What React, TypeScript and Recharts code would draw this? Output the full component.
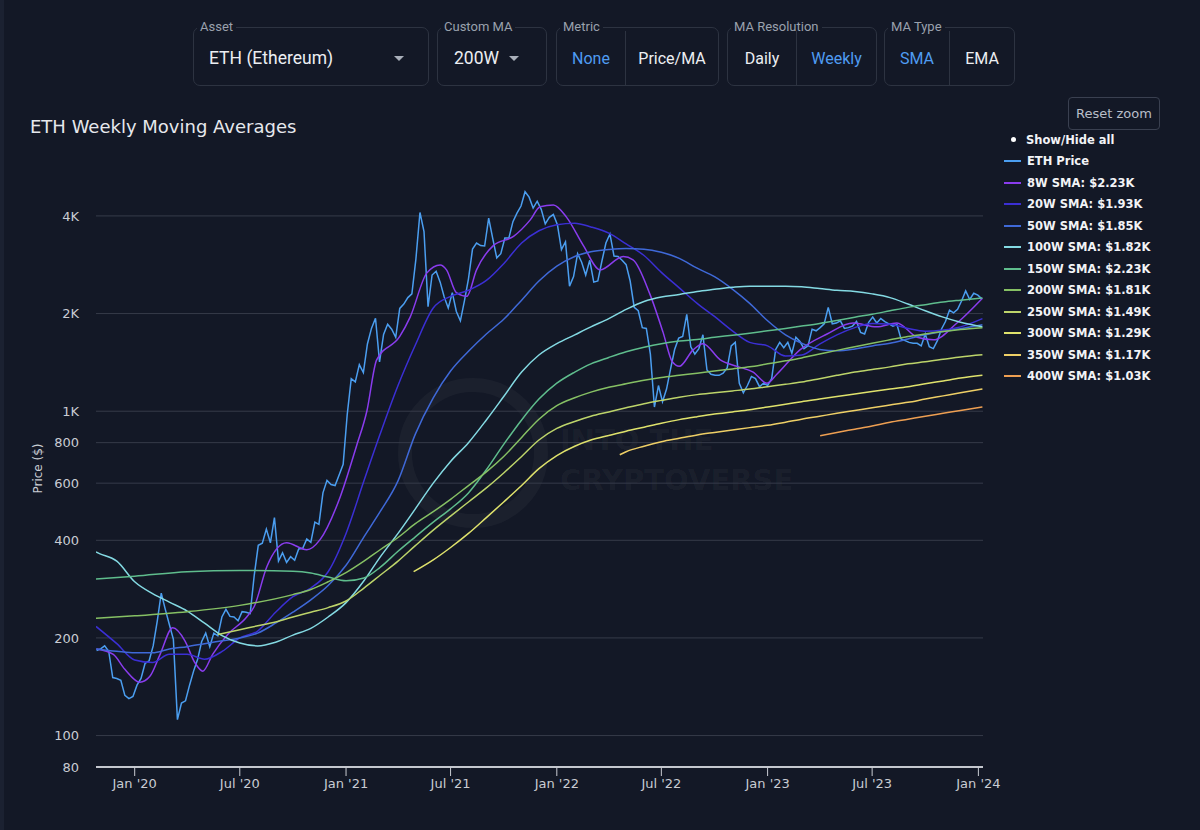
import React from 'react';
import { LineChart, Line, XAxis, YAxis, ReferenceLine, Label } from 'recharts';

const DAY = 86400000;
const ts = (d: string) => Date.parse(d + 'T00:00:00Z');

// ETH weekly closes, one value per week starting 2019-10-27
const priceStart = '2019-10-27';
const ethPrice = [
  183, 185, 189, 182, 151, 150, 148, 133, 130, 132,
  143, 150, 167, 170, 189, 225, 275, 245, 220, 198, 112, 126, 128, 143, 158, 172, 195, 207, 188, 207, 203, 232,
  245, 233, 232, 226, 241, 240, 238, 312, 386, 392, 433, 393, 470, 345, 366, 342, 356, 347, 376, 378, 404, 394,
  455, 448, 560, 612, 594, 590, 636, 686,
  975, 1260, 1232, 1392, 1315, 1612, 1800, 1935, 1420, 1725, 1855, 1790, 1690, 2075, 2140, 2240, 2300, 2950, 4100, 3580,
  2100, 2630, 2700, 2500, 2250, 2080, 2320, 2030, 1900, 2190, 2560, 3160, 3300, 3240, 3230, 3940, 3410, 2970, 3060, 3420,
  3420, 3840, 4080, 4290, 4750, 4570, 4230, 4440, 4190, 3780, 3960, 4040,
  3760, 3150, 3330, 2430, 2600, 3060, 2880, 2630, 2920, 2500, 2520, 2900, 3300, 3520, 3010, 3000, 2920, 2830, 2520, 2090,
  2040, 1810, 1800, 1500, 1030, 1200, 1070, 1170, 1350, 1550, 1680, 1700, 1990, 1580, 1500, 1560, 1720, 1340, 1300, 1290,
  1290, 1310, 1360, 1590, 1630, 1220, 1140, 1200, 1280, 1260, 1190, 1220,
  1200, 1260, 1550, 1630, 1570, 1630, 1510, 1690, 1640, 1560, 1590, 1790, 1770, 1810, 1860, 2090, 1860, 1870, 1900, 1800,
  1810, 1830, 1890, 1750, 1730, 1880, 1950, 1870, 1930, 1890, 1860, 1830, 1850, 1670, 1650, 1630, 1620, 1620, 1590, 1730,
  1580, 1560, 1650, 1790, 1890, 2050, 2010, 2060, 2190, 2350, 2210, 2310, 2280,
  2220,
];

const sma8: [string, number][] = [
  ['2019-10-27', 185], ['2019-11-25', 178], ['2019-12-15', 160], ['2020-01-10', 146], ['2020-01-27', 152],
  ['2020-02-14', 178], ['2020-03-07', 215], ['2020-03-28', 196], ['2020-04-14', 168], ['2020-04-28', 158],
  ['2020-05-15', 178], ['2020-06-10', 205], ['2020-07-13', 232], ['2020-07-26', 250], ['2020-08-17', 332],
  ['2020-09-20', 393], ['2020-10-25', 374], ['2020-11-17', 402], ['2020-12-22', 545], ['2021-01-19', 780],
  ['2021-02-06', 1000], ['2021-02-23', 1440], ['2021-04-04', 1700], ['2021-04-22', 1950], ['2021-05-21', 2670],
  ['2021-06-13', 2825], ['2021-06-24', 2727], ['2021-07-11', 2320], ['2021-07-29', 2260], ['2021-08-15', 2727],
  ['2021-09-13', 3240], ['2021-10-18', 3460], ['2021-11-16', 3890], ['2021-12-03', 4270], ['2021-12-26', 4325],
  ['2022-01-18', 3960], ['2022-02-16', 3240], ['2022-03-17', 2727], ['2022-04-26', 3000], ['2022-05-13', 2930],
  ['2022-06-11', 2300], ['2022-07-04', 1750], ['2022-07-20', 1420], ['2022-08-01', 1375], ['2022-08-25', 1546],
  ['2022-09-11', 1615], ['2022-10-11', 1440], ['2022-11-09', 1375], ['2022-12-07', 1320], ['2022-12-31', 1220],
  ['2023-01-17', 1300], ['2023-02-26', 1546], ['2023-04-14', 1730], ['2023-05-29', 1870], ['2023-07-09', 1820],
  ['2023-08-13', 1870], ['2023-09-17', 1690], ['2023-10-15', 1660], ['2023-11-25', 1870], ['2024-01-08', 2230],
];

const sma20: [string, number][] = [
  ['2019-10-26', 217], ['2019-12-01', 192], ['2020-01-01', 171], ['2020-02-01', 168], ['2020-03-01', 178],
  ['2020-04-01', 178], ['2020-05-01', 172], ['2020-06-01', 182], ['2020-07-01', 200], ['2020-08-01', 210],
  ['2020-09-01', 240], ['2020-10-01', 268], ['2020-11-01', 285], ['2020-12-01', 320], ['2021-01-01', 420],
  ['2021-02-01', 610], ['2021-03-01', 850], ['2021-04-01', 1200], ['2021-05-01', 1600], ['2021-06-01', 2080],
  ['2021-07-01', 2260], ['2021-08-01', 2360], ['2021-09-01', 2530], ['2021-10-01', 2850], ['2021-11-01', 3300],
  ['2021-12-01', 3600], ['2022-01-01', 3760], ['2022-02-01', 3800], ['2022-03-01', 3700], ['2022-04-01', 3540],
  ['2022-05-01', 3280], ['2022-06-01', 3020], ['2022-07-01', 2680], ['2022-08-01', 2400], ['2022-09-01', 2150],
  ['2022-10-01', 1960], ['2022-11-01', 1770], ['2022-12-01', 1630], ['2023-01-01', 1590], ['2023-02-01', 1480],
  ['2023-03-01', 1490], ['2023-04-01', 1610], ['2023-05-01', 1720], ['2023-06-01', 1810], ['2023-07-01', 1865],
  ['2023-08-01', 1855], ['2023-09-01', 1800], ['2023-10-01', 1765], ['2023-11-01', 1780], ['2023-12-01', 1820],
  ['2024-01-08', 1930],
];

const sma50: [string, number][] = [
  ['2019-10-26', 185], ['2019-12-01', 182], ['2020-01-01', 180], ['2020-02-01', 180], ['2020-03-01', 185],
  ['2020-04-01', 188], ['2020-05-01', 192], ['2020-06-01', 196], ['2020-07-01', 200], ['2020-08-01', 207],
  ['2020-09-01', 222], ['2020-10-01', 240], ['2020-11-01', 262], ['2020-12-01', 290], ['2021-01-01', 335],
  ['2021-02-01', 410], ['2021-03-01', 490], ['2021-04-01', 610], ['2021-05-01', 850], ['2021-06-01', 1100],
  ['2021-07-01', 1330], ['2021-08-01', 1530], ['2021-09-01', 1730], ['2021-10-01', 1920], ['2021-11-01', 2200],
  ['2021-12-01', 2520], ['2022-01-01', 2800], ['2022-02-01', 3000], ['2022-03-01', 3100], ['2022-04-01', 3150],
  ['2022-05-01', 3175], ['2022-06-01', 3160], ['2022-07-01', 3090], ['2022-08-01', 2960], ['2022-09-01', 2760],
  ['2022-10-01', 2600], ['2022-11-01', 2380], ['2022-12-01', 2150], ['2023-01-01', 1900], ['2023-02-01', 1720],
  ['2023-03-01', 1620], ['2023-04-01', 1550], ['2023-05-01', 1535], ['2023-06-01', 1555], ['2023-07-01', 1590],
  ['2023-08-01', 1620], ['2023-09-01', 1670], ['2023-10-01', 1720], ['2023-11-01', 1760], ['2023-12-01', 1795],
  ['2024-01-08', 1846],
];

const sma100: [string, number][] = [
  ['2019-10-26', 368], ['2019-11-01', 364], ['2019-12-01', 345], ['2020-01-01', 298], ['2020-02-01', 274],
  ['2020-03-01', 258], ['2020-04-01', 242], ['2020-05-01', 222], ['2020-06-01', 203], ['2020-07-01', 193],
  ['2020-08-01', 189], ['2020-09-01', 194], ['2020-10-01', 204], ['2020-11-01', 214], ['2020-12-01', 232],
  ['2021-01-01', 257], ['2021-02-01', 300], ['2021-03-01', 355], ['2021-04-01', 420], ['2021-05-01', 500],
  ['2021-06-01', 600], ['2021-07-01', 700], ['2021-08-01', 800], ['2021-09-01', 940], ['2021-10-01', 1110],
  ['2021-11-01', 1320], ['2021-12-01', 1490], ['2022-01-01', 1615], ['2022-02-01', 1720], ['2022-03-01', 1820],
  ['2022-04-01', 1930], ['2022-05-01', 2060], ['2022-06-01', 2180], ['2022-07-01', 2250], ['2022-08-01', 2290],
  ['2022-09-01', 2340], ['2022-10-01', 2375], ['2022-11-01', 2410], ['2022-12-01', 2430], ['2023-01-01', 2430],
  ['2023-02-01', 2430], ['2023-03-01', 2420], ['2023-04-01', 2390], ['2023-05-01', 2360], ['2023-06-01', 2340],
  ['2023-07-01', 2300], ['2023-08-01', 2240], ['2023-09-01', 2140], ['2023-10-01', 2040], ['2023-11-01', 1950],
  ['2023-12-01', 1880], ['2024-01-08', 1820],
];

const sma150: [string, number][] = [
  ['2019-10-26', 304], ['2020-01-01', 310], ['2020-04-01', 320], ['2020-07-01', 323], ['2020-10-01', 321],
  ['2020-11-01', 317], ['2020-12-01', 308], ['2021-01-01', 300], ['2021-02-01', 306], ['2021-03-01', 330],
  ['2021-04-01', 370], ['2021-05-01', 410], ['2021-06-01', 455], ['2021-07-01', 500], ['2021-08-01', 560],
  ['2021-09-01', 660], ['2021-10-01', 790], ['2021-11-01', 940], ['2021-12-01', 1090], ['2022-01-01', 1220],
  ['2022-02-01', 1320], ['2022-03-01', 1400], ['2022-04-01', 1465], ['2022-05-01', 1525], ['2022-06-01', 1575],
  ['2022-07-01', 1615], ['2022-08-01', 1645], ['2022-09-01', 1665], ['2022-10-01', 1690], ['2022-11-01', 1715],
  ['2022-12-01', 1740], ['2023-01-01', 1770], ['2023-02-01', 1800], ['2023-03-01', 1830], ['2023-04-01', 1865],
  ['2023-05-01', 1905], ['2023-06-01', 1950], ['2023-07-01', 1990], ['2023-08-01', 2040], ['2023-09-01', 2090],
  ['2023-10-01', 2130], ['2023-11-01', 2170], ['2023-12-01', 2200], ['2024-01-08', 2236],
];

const sma200: [string, number][] = [
  ['2019-10-26', 230], ['2020-01-01', 234], ['2020-04-01', 241], ['2020-07-01', 252], ['2020-10-01', 272],
  ['2020-11-01', 282], ['2020-12-01', 298], ['2021-01-01', 318], ['2021-02-01', 345], ['2021-03-01', 374],
  ['2021-04-01', 408], ['2021-05-01', 450], ['2021-06-01', 490], ['2021-07-01', 535], ['2021-08-01', 590],
  ['2021-09-01', 650], ['2021-10-01', 725], ['2021-11-01', 830], ['2021-12-01', 945], ['2022-01-01', 1040],
  ['2022-02-01', 1100], ['2022-03-01', 1145], ['2022-04-01', 1185], ['2022-05-01', 1215], ['2022-06-01', 1245],
  ['2022-07-01', 1270], ['2022-08-01', 1290], ['2022-09-01', 1310], ['2022-10-01', 1330], ['2022-11-01', 1350],
  ['2022-12-01', 1370], ['2023-01-01', 1400], ['2023-02-01', 1430], ['2023-03-01', 1460], ['2023-04-01', 1500],
  ['2023-05-01', 1540], ['2023-06-01', 1580], ['2023-07-01', 1620], ['2023-08-01', 1660], ['2023-09-01', 1700],
  ['2023-10-01', 1730], ['2023-11-01', 1760], ['2023-12-01', 1785], ['2024-01-08', 1810],
];

const sma250: [string, number][] = [
  ['2020-05-24', 205], ['2020-07-01', 212], ['2020-08-01', 218], ['2020-09-01', 224], ['2020-10-01', 232],
  ['2020-11-01', 240], ['2020-12-01', 248], ['2021-01-01', 260], ['2021-02-01', 285], ['2021-03-01', 312],
  ['2021-04-01', 345], ['2021-05-01', 385], ['2021-06-01', 430], ['2021-07-01', 475], ['2021-08-01', 525],
  ['2021-09-01', 580], ['2021-10-01', 645], ['2021-11-01', 725], ['2021-12-01', 815], ['2022-01-01', 885],
  ['2022-02-01', 930], ['2022-03-01', 965], ['2022-04-01', 995], ['2022-05-01', 1025], ['2022-06-01', 1055],
  ['2022-07-01', 1080], ['2022-08-01', 1105], ['2022-09-01', 1125], ['2022-10-01', 1140], ['2022-11-01', 1155],
  ['2022-12-01', 1170], ['2023-01-01', 1190], ['2023-02-01', 1210], ['2023-03-01', 1230], ['2023-04-01', 1260],
  ['2023-05-01', 1290], ['2023-06-01', 1320], ['2023-07-01', 1345], ['2023-08-01', 1370], ['2023-09-01', 1400],
  ['2023-10-01', 1420], ['2023-11-01', 1445], ['2023-12-01', 1470], ['2024-01-08', 1492],
];

const sma300: [string, number][] = [
  ['2021-04-28', 320], ['2021-06-01', 348], ['2021-07-01', 380], ['2021-08-01', 420], ['2021-09-01', 470],
  ['2021-10-01', 525], ['2021-11-01', 590], ['2021-12-01', 665], ['2022-01-01', 730], ['2022-02-01', 780],
  ['2022-03-01', 815], ['2022-04-01', 842], ['2022-05-01', 868], ['2022-06-01', 893], ['2022-07-01', 918],
  ['2022-08-01', 942], ['2022-09-01', 962], ['2022-10-01', 980], ['2022-11-01', 995], ['2022-12-01', 1010],
  ['2023-01-01', 1030], ['2023-02-01', 1050], ['2023-03-01', 1070], ['2023-04-01', 1090], ['2023-05-01', 1110],
  ['2023-06-01', 1130], ['2023-07-01', 1150], ['2023-08-01', 1170], ['2023-09-01', 1190], ['2023-10-01', 1215],
  ['2023-11-01', 1240], ['2023-12-01', 1265], ['2024-01-08', 1290],
];

const sma350: [string, number][] = [
  ['2022-04-20', 734], ['2022-05-01', 750], ['2022-06-01', 780], ['2022-07-01', 805], ['2022-08-01', 825],
  ['2022-09-01', 845], ['2022-10-01', 860], ['2022-11-01', 875], ['2022-12-01', 890], ['2023-01-01', 905],
  ['2023-02-01', 925], ['2023-03-01', 945], ['2023-04-01', 965], ['2023-05-01', 985], ['2023-06-01', 1005],
  ['2023-07-01', 1025], ['2023-08-01', 1045], ['2023-09-01', 1065], ['2023-10-01', 1090], ['2023-11-01', 1115],
  ['2023-12-01', 1140], ['2024-01-08', 1170],
];

const sma400: [string, number][] = [
  ['2023-04-02', 840], ['2023-05-01', 860], ['2023-06-01', 880], ['2023-07-01', 900], ['2023-08-01', 925],
  ['2023-09-01', 945], ['2023-10-01', 965], ['2023-11-01', 985], ['2023-12-01', 1005], ['2024-01-08', 1030],
];

const xTickDates = [
  '2020-01-01', '2020-07-01', '2021-01-01', '2021-07-01', '2022-01-01',
  '2022-07-01', '2023-01-01', '2023-07-01', '2024-01-01',
];
const yTicks = [80, 100, 200, 400, 600, 800, 1000, 2000, 4000];

const priceData = ethPrice.map((v, i) => ({ t: ts(priceStart) + i * 7 * DAY, v }));
const toPoints = (arr: [string, number][]) => arr.map(([d, v]) => ({ t: ts(d), v }));

const series = [
  { name: 'ETH Price', color: '#4b9ef0', data: priceData, curve: 'linear' },
  { name: '8W SMA: $2.23K', color: '#8a3cee', data: toPoints(sma8), curve: 'monotone' },
  { name: '20W SMA: $1.93K', color: '#3b2fd4', data: toPoints(sma20), curve: 'monotone' },
  { name: '50W SMA: $1.85K', color: '#3f69d8', data: toPoints(sma50), curve: 'monotone' },
  { name: '100W SMA: $1.82K', color: '#84dae3', data: toPoints(sma100), curve: 'monotone' },
  { name: '150W SMA: $2.23K', color: '#5fbd8d', data: toPoints(sma150), curve: 'monotone' },
  { name: '200W SMA: $1.81K', color: '#86c064', data: toPoints(sma200), curve: 'monotone' },
  { name: '250W SMA: $1.49K', color: '#bdd46a', data: toPoints(sma250), curve: 'monotone' },
  { name: '300W SMA: $1.29K', color: '#dfe26c', data: toPoints(sma300), curve: 'monotone' },
  { name: '350W SMA: $1.17K', color: '#eecf66', data: toPoints(sma350), curve: 'monotone' },
  { name: '400W SMA: $1.03K', color: '#ee9f52', data: toPoints(sma400), curve: 'monotone' },
];

const BG = '#131826';
const TEXT = '#c9ccd3';
const BLUE = '#4f9cf2';
const BORDER = '#2d3341';

const fmtX = (t: number) => {
  const d = new Date(t);
  return `${d.getUTCMonth() === 0 ? 'Jan' : 'Jul'} '${String(d.getUTCFullYear()).slice(2)}`;
};
const fmtY = (v: number) => (v >= 1000 ? `${v / 1000}K` : `${v}`);

const Arrow = () => (
  <span style={{ width: 0, height: 0, borderLeft: '5px solid transparent', borderRight: '5px solid transparent', borderTop: '5px solid #a9afba' }} />
);

const Control = ({ label, left, width, children }: any) => (
  <fieldset
    style={{
      position: 'absolute', left, top: 19, width, height: 67, margin: 0, padding: 0,
      border: `1px solid ${BORDER}`, borderRadius: 7, boxSizing: 'border-box',
    }}
  >
    <legend style={{ marginLeft: 3, padding: '0 3px', fontSize: 13, color: '#9aa1ad', lineHeight: '16px' }}>{label}</legend>
    <div style={{ display: 'flex', alignItems: 'stretch', height: 54, marginTop: -4 }}>{children}</div>
  </fieldset>
);

const Toggle = ({ items, active, splits }: { items: string[]; active: number; splits: number[] }) => (
  <>
    {items.map((it, i) => (
      <div
        key={it}
        style={{
          width: splits[i], display: 'flex', alignItems: 'center', justifyContent: 'center',
          borderLeft: i > 0 ? `1px solid ${BORDER}` : 'none', color: i === active ? BLUE : '#eceef2', fontSize: 16,
        }}
      >
        {it}
      </div>
    ))}
  </>
);

export default function App() {
  const xDomain = [ts('2019-10-26'), ts('2024-01-09')];
  return (
    <div style={{ position: 'relative', width: 1200, height: 830, background: BG, overflow: 'hidden', fontFamily: 'DejaVu Sans, sans-serif' }}>
      <style>{`body{margin:0;background:${BG}}`}</style>
      <div style={{ position: 'absolute', left: 0, top: 0, width: 4, height: 830, background: '#1b2131' }} />

      <div style={{ fontFamily: 'Roboto, sans-serif' }}>
        <Control label="Asset" left={193} width={236}>
          <div style={{ flex: 1, display: 'flex', alignItems: 'center', justifyContent: 'space-between', padding: '0 24px 0 15px', color: '#eceef2', fontSize: 17.5 }}>
            <span>ETH (Ethereum)</span>
            <Arrow />
          </div>
        </Control>
        <Control label="Custom MA" left={437} width={110}>
          <div style={{ flex: 1, display: 'flex', alignItems: 'center', gap: 10, padding: '0 0 0 16px', color: '#eceef2', fontSize: 17.5 }}>
            <span>200W</span>
            <Arrow />
          </div>
        </Control>
        <Control label="Metric" left={556} width={162}>
          <Toggle items={['None', 'Price/MA']} active={0} splits={[68, 92]} />
        </Control>
        <Control label="MA Resolution" left={727} width={149}>
          <Toggle items={['Daily', 'Weekly']} active={1} splits={[68, 79]} />
        </Control>
        <Control label="MA Type" left={884} width={130}>
          <Toggle items={['SMA', 'EMA']} active={0} splits={[64, 64]} />
        </Control>
      </div>

      <div style={{ position: 'absolute', left: 30, top: 116, fontSize: 18, color: '#e6e8ed' }}>ETH Weekly Moving Averages</div>

      {/* watermark */}
      <div style={{ position: 'absolute', left: 398, top: 378, width: 150, height: 150, borderRadius: '50%', border: '14px solid rgba(255,255,255,0.035)', boxSizing: 'border-box' }} />
      <div style={{ position: 'absolute', left: 560, top: 420, fontSize: 29, fontWeight: 'bold', color: 'rgba(255,255,255,0.045)', lineHeight: '40px' }}>
        INTO THE<br />CRYPTOVERSE
      </div>

      <div style={{ position: 'absolute', left: 0, top: 150 }}>
        <LineChart width={1010} height={660} margin={{ top: 20, right: 27, bottom: 0, left: 0 }}>
          <XAxis
            dataKey="t"
            type="number"
            domain={xDomain}
            allowDataOverflow
            ticks={xTickDates.map(ts)}
            interval={0}
            tickFormatter={fmtX}
            height={43}
            tickSize={9}
            tickMargin={3}
            tick={{ fill: TEXT, fontSize: 13 }}
            tickLine={{ stroke: TEXT }}
            axisLine={{ stroke: '#c4c7ce', strokeWidth: 2 }}
          />
          <YAxis
            type="number"
            scale="log"
            domain={[80, 5542]}
            allowDataOverflow
            ticks={yTicks}
            interval={0}
            tickFormatter={fmtY}
            width={96}
            axisLine={false}
            tickLine={false}
            tickSize={8}
            tickMargin={9}
            tick={{ fill: TEXT, fontSize: 13 }}
          >
            <Label value="Price ($)" angle={-90} position="insideLeft" offset={38} style={{ textAnchor: 'middle', fill: TEXT, fontSize: 12 }} />
          </YAxis>
          {yTicks.slice(1).map((v) => (
            <ReferenceLine key={v} y={v} stroke="#363b49" strokeWidth={1} />
          ))}
          {series.map((s) => (
            <Line
              key={s.name}
              data={s.data}
              dataKey="v"
              name={s.name}
              type={s.curve as any}
              stroke={s.color}
              strokeWidth={1.5}
              dot={false}
              activeDot={false}
              isAnimationActive={false}
            />
          ))}
        </LineChart>
      </div>

      <div
        style={{
          position: 'absolute', left: 1068, top: 97, width: 92, height: 33, border: '1px solid #3a4050', borderRadius: 4,
          boxSizing: 'border-box', display: 'flex', alignItems: 'center', justifyContent: 'center', color: '#b9bec8', fontSize: 13,
        }}
      >
        Reset zoom
      </div>

      <div style={{ position: 'absolute', left: 1004, top: 129 }}>
        <div style={{ display: 'flex', alignItems: 'center', height: 21.5, fontSize: 11.5, fontWeight: 'bold', color: '#f2f3f6' }}>
          <span style={{ width: 5, height: 5, borderRadius: '50%', background: '#fff', margin: '0 10px 0 7px' }} />
          Show/Hide all
        </div>
        {series.map((s) => (
          <div key={s.name} style={{ display: 'flex', alignItems: 'center', height: 21.5, fontSize: 11.5, fontWeight: 'bold', color: '#f2f3f6' }}>
            <span style={{ width: 17, height: 2, background: s.color, marginRight: 6 }} />
            {s.name}
          </div>
        ))}
      </div>
    </div>
  );
}
